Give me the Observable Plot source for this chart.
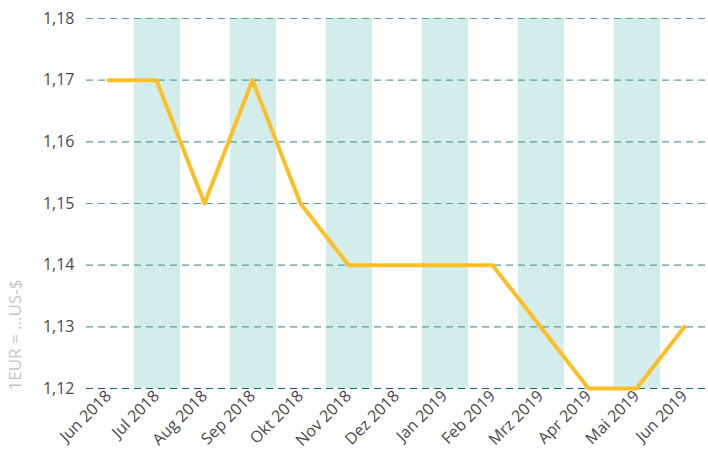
<!DOCTYPE html>
<html><head><meta charset="utf-8">
<script src="https://cdn.jsdelivr.net/npm/d3@7"></script>
<script src="https://cdn.jsdelivr.net/npm/@observablehq/plot@0.6"></script>
<style>body{margin:0;background:#fff;font-family:"Open Sans",sans-serif;}</style>
</head><body><div id="chart"></div>
<script>
const months = ["Jun 2018","Jul 2018","Aug 2018","Sep 2018","Okt 2018","Nov 2018","Dez 2018","Jan 2019","Feb 2019","Mrz 2019","Apr 2019","Mai 2019","Jun 2019"];
const rates = [1.17,1.17,1.15,1.17,1.15,1.14,1.14,1.14,1.14,1.13,1.12,1.12,1.13];
const shaded = ["Jul 2018","Sep 2018","Nov 2018","Jan 2019","Mrz 2019","Mai 2019"];
const yTicks = [1.12,1.13,1.14,1.15,1.16,1.17,1.18];
const yLabel = "1EUR = ...US-$";

const data = months.map((m,i)=>({month:m, rate:rates[i]}));
const fmt = d => d.toFixed(2).replace(".", ",");

const chart = Plot.plot({
  width: 708, height: 461,
  marginLeft: 84, marginRight: 0, marginTop: 18, marginBottom: 73,
  style: {fontFamily: "'Open Sans', sans-serif", fontSize: "16px", color: "#4a4a4a", background: "#fff"},
  x: {type: "band", domain: months, padding: 0, label: null, tickSize: 0, tickRotate: -45, tickPadding: 5},
  y: {domain: [1.12, 1.18], ticks: yTicks, tickFormat: fmt, label: null, tickSize: 0, tickPadding: 10},
  marks: [
    Plot.barY(shaded, {x: d => d, y1: 1.12, y2: 1.18, fill: "#d3ecec", insetLeft: 2, insetRight: 0}),
    Plot.ruleY(yTicks.filter(t => t > 1.12), {stroke: "#5a9e98", strokeWidth: 1.2, strokeDasharray: "7,5", insetLeft: 2, insetRight: 2}),
    Plot.ruleY([1.12], {stroke: "#0b6b63", strokeWidth: 1.2, strokeDasharray: "7,5", insetLeft: 2, insetRight: 2}),
    Plot.line(data, {x: "month", y: "rate", stroke: "#fcbf26", strokeWidth: 4, strokeLinejoin: "round"}),
    Plot.text([yLabel], {frameAnchor: "bottom-left", text: d => d, rotate: -90, textAnchor: "start", lineAnchor: "middle", dx: -69, dy: 2, fill: "#c4c4c4", fontSize: 17})
  ]
});
document.getElementById("chart").appendChild(chart);
</script></body></html>
